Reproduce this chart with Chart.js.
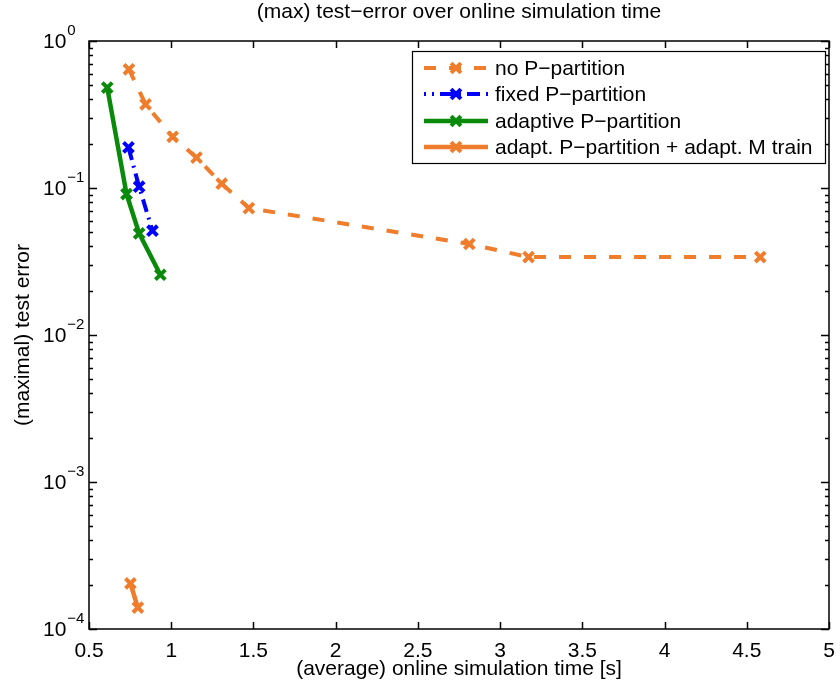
<!DOCTYPE html>
<html>
<head>
<meta charset="utf-8">
<script src="https://cdn.jsdelivr.net/npm/chart.js@4/dist/chart.umd.min.js"></script>
<style>
  html, body { margin: 0; padding: 0; background: #ffffff; }
  canvas { display: block; }
</style>
</head>
<body>
<canvas id="chart" width="840" height="688"></canvas>
<script>
"use strict";

// series
const seriesNames = [
    "no P\u2212partition",
    "fixed P\u2212partition",
    "adaptive P\u2212partition",
    "adapt. P\u2212partition + adapt. M train",
];
const chartTitle = "(max) test\u2212error over online simulation time";

const noPartTime = [0.743, 0.844, 1.009, 1.154, 1.307, 1.472, 2.813, 3.173, 4.582];
const noPartError = [0.642, 0.371, 0.223, 0.161, 0.107, 0.073, 0.0416, 0.0339, 0.0339];

const fixedTime = [0.740, 0.805, 0.886];
const fixedError = [0.189, 0.102, 0.0512];

const adaptiveTime = [0.611, 0.728, 0.805, 0.934];
const adaptiveError = [0.482, 0.091, 0.0491, 0.0257];

const adaptMTime = [0.752, 0.797];
const adaptMError = [2.04e-4, 1.40e-4];

const xTicks = [0.5, 1, 1.5, 2, 2.5, 3, 3.5, 4, 4.5, 5];
const yDecades = [-4, -3, -2, -1, 0];

const ORANGE = "#ef7d2c";
const BLUE = "#0000ff";
const GREEN = "#0a8a0a";
const FONT = "'Liberation Sans', Arial, sans-serif";

const toPoints = (xs, ys) => xs.map((x, i) => ({ x: x, y: ys[i] }));

const makeSet = (label, xs, ys, color, dash, width, order) => ({
    label: label,
    data: toPoints(xs, ys),
    showLine: true,
    borderColor: color,
    backgroundColor: color,
    borderWidth: width,
    borderDash: dash,
    pointStyle: "crossRot",
    pointRadius: 7,
    pointBorderWidth: 4,
    pointBorderColor: color,
    pointHoverRadius: 7,
    order: order,
});

const noPadding = (scale) => {
    scale.paddingLeft = 0;
    scale.paddingRight = 0;
    scale.paddingTop = 0;
    scale.paddingBottom = 0;
};

// title, frame, inward ticks, superscript y labels, legend box
const axesPlugin = {
    id: "matlabAxes",
    afterDraw: (chart) => {
        const ctx = chart.ctx;
        const area = chart.chartArea;
        const xs = chart.scales.x;
        const ys = chart.scales.y;
        ctx.save();

        ctx.fillStyle = "#000000";
        ctx.font = "21px " + FONT;
        ctx.textAlign = "center";
        ctx.textBaseline = "middle";
        ctx.fillText(chartTitle, (area.left + area.right) / 2, 12);

        ctx.strokeStyle = "#000000";
        ctx.lineWidth = 1.5;
        ctx.setLineDash([]);
        ctx.beginPath();
        xTicks.forEach(v => {
            const px = Math.round(xs.getPixelForValue(v)) + 0.5;
            ctx.moveTo(px, area.bottom);
            ctx.lineTo(px, area.bottom - 7);
            ctx.moveTo(px, area.top);
            ctx.lineTo(px, area.top + 7);
        });
        yDecades.forEach(k => {
            for (let m = 1; m <= 9; m++) {
                const v = m * Math.pow(10, k);
                if (v > 1) continue;
                const py = Math.round(ys.getPixelForValue(v)) + 0.5;
                const len = m === 1 ? 8 : 4;
                ctx.moveTo(area.left, py);
                ctx.lineTo(area.left + len, py);
                ctx.moveTo(area.right, py);
                ctx.lineTo(area.right - len, py);
            }
        });
        ctx.stroke();
        ctx.strokeRect(area.left, area.top, area.right - area.left, area.bottom - area.top);

        // y tick labels 10^k
        ctx.textAlign = "left";
        yDecades.forEach(k => {
            const py = ys.getPixelForValue(Math.pow(10, k));
            ctx.font = "21px " + FONT;
            ctx.fillText("10", 43, py + 1);
            const w = ctx.measureText("10").width;
            ctx.font = "15px " + FONT;
            ctx.fillText(k === 0 ? "0" : "\u2212" + Math.abs(k), 43 + w + 1, py - 10);
        });

        // legend
        const box = { left: 412, top: 51, right: 825, bottom: 163 };
        ctx.fillStyle = "#ffffff";
        ctx.fillRect(box.left, box.top, box.right - box.left, box.bottom - box.top);
        ctx.lineWidth = 1.2;
        ctx.strokeRect(box.left + 0.5, box.top + 0.5, box.right - box.left, box.bottom - box.top);
        const rowY = [68, 94, 121, 147];
        const dashOffsets = [0, 11, 0, 0];
        chart.data.datasets.forEach((ds, i) => {
            const y = rowY[i];
            ctx.strokeStyle = ds.borderColor;
            ctx.lineWidth = ds.borderWidth;
            ctx.setLineDash(ds.borderDash || []);
            ctx.lineDashOffset = dashOffsets[i];
            ctx.beginPath();
            ctx.moveTo(424, y);
            ctx.lineTo(488, y);
            ctx.stroke();
            ctx.setLineDash([]);
            ctx.lineWidth = ds.pointBorderWidth;
            ctx.beginPath();
            const r = ds.pointRadius * Math.SQRT1_2;
            ctx.moveTo(456 - r, y - r);
            ctx.lineTo(456 + r, y + r);
            ctx.moveTo(456 - r, y + r);
            ctx.lineTo(456 + r, y - r);
            ctx.stroke();
            ctx.fillStyle = "#000000";
            ctx.font = "21px " + FONT;
            ctx.textBaseline = "middle";
            ctx.fillText(ds.label, 495, y + 1);
        });
        ctx.restore();
    },
};

const chart = new Chart(document.getElementById("chart"), {
    type: "scatter",
    data: {
        datasets: [
            makeSet(seriesNames[0], noPartTime, noPartError, ORANGE, [12, 13], 4, 4),
            makeSet(seriesNames[1], fixedTime, fixedError, BLUE, [13, 6, 2, 6], 4, 3),
            makeSet(seriesNames[2], adaptiveTime, adaptiveError, GREEN, [], 4.5, 2),
            makeSet(seriesNames[3], adaptMTime, adaptMError, ORANGE, [], 4.5, 1),
        ],
    },
    options: {
        responsive: false,
        devicePixelRatio: 1,
        animation: false,
        layout: { padding: { left: 0, right: 6, top: 41, bottom: 0 } },
        plugins: {
            legend: { display: false },
            tooltip: { enabled: false },
            title: { display: false },
        },
        scales: {
            x: {
                type: "linear",
                min: 0.5,
                max: 5,
                afterBuildTicks: (scale) => {
                    scale.ticks = xTicks.map(v => ({ value: v }));
                },
                afterFit: (scale) => {
                    scale.height = 59;
                    noPadding(scale);
                },
                grid: { display: false, drawTicks: false },
                border: { display: false },
                ticks: {
                    color: "#000000",
                    padding: 10,
                    maxRotation: 0,
                    font: { family: FONT, size: 21 },
                    callback: (value) => String(value),
                },
                title: {
                    display: true,
                    text: "(average) online simulation time [s]",
                    color: "#000000",
                    font: { family: FONT, size: 21 },
                    padding: { top: 0, bottom: 6 },
                },
            },
            y: {
                type: "logarithmic",
                min: 1e-4,
                max: 1,
                afterFit: (scale) => {
                    scale.width = 89;
                    noPadding(scale);
                },
                grid: { display: false, drawTicks: false },
                border: { display: false },
                ticks: { display: false },
                title: {
                    display: true,
                    text: "(maximal) test error",
                    color: "#000000",
                    font: { family: FONT, size: 21 },
                    padding: { top: 11, bottom: 0 },
                },
            },
        },
    },
    plugins: [axesPlugin],
});
</script>
</body>
</html>
